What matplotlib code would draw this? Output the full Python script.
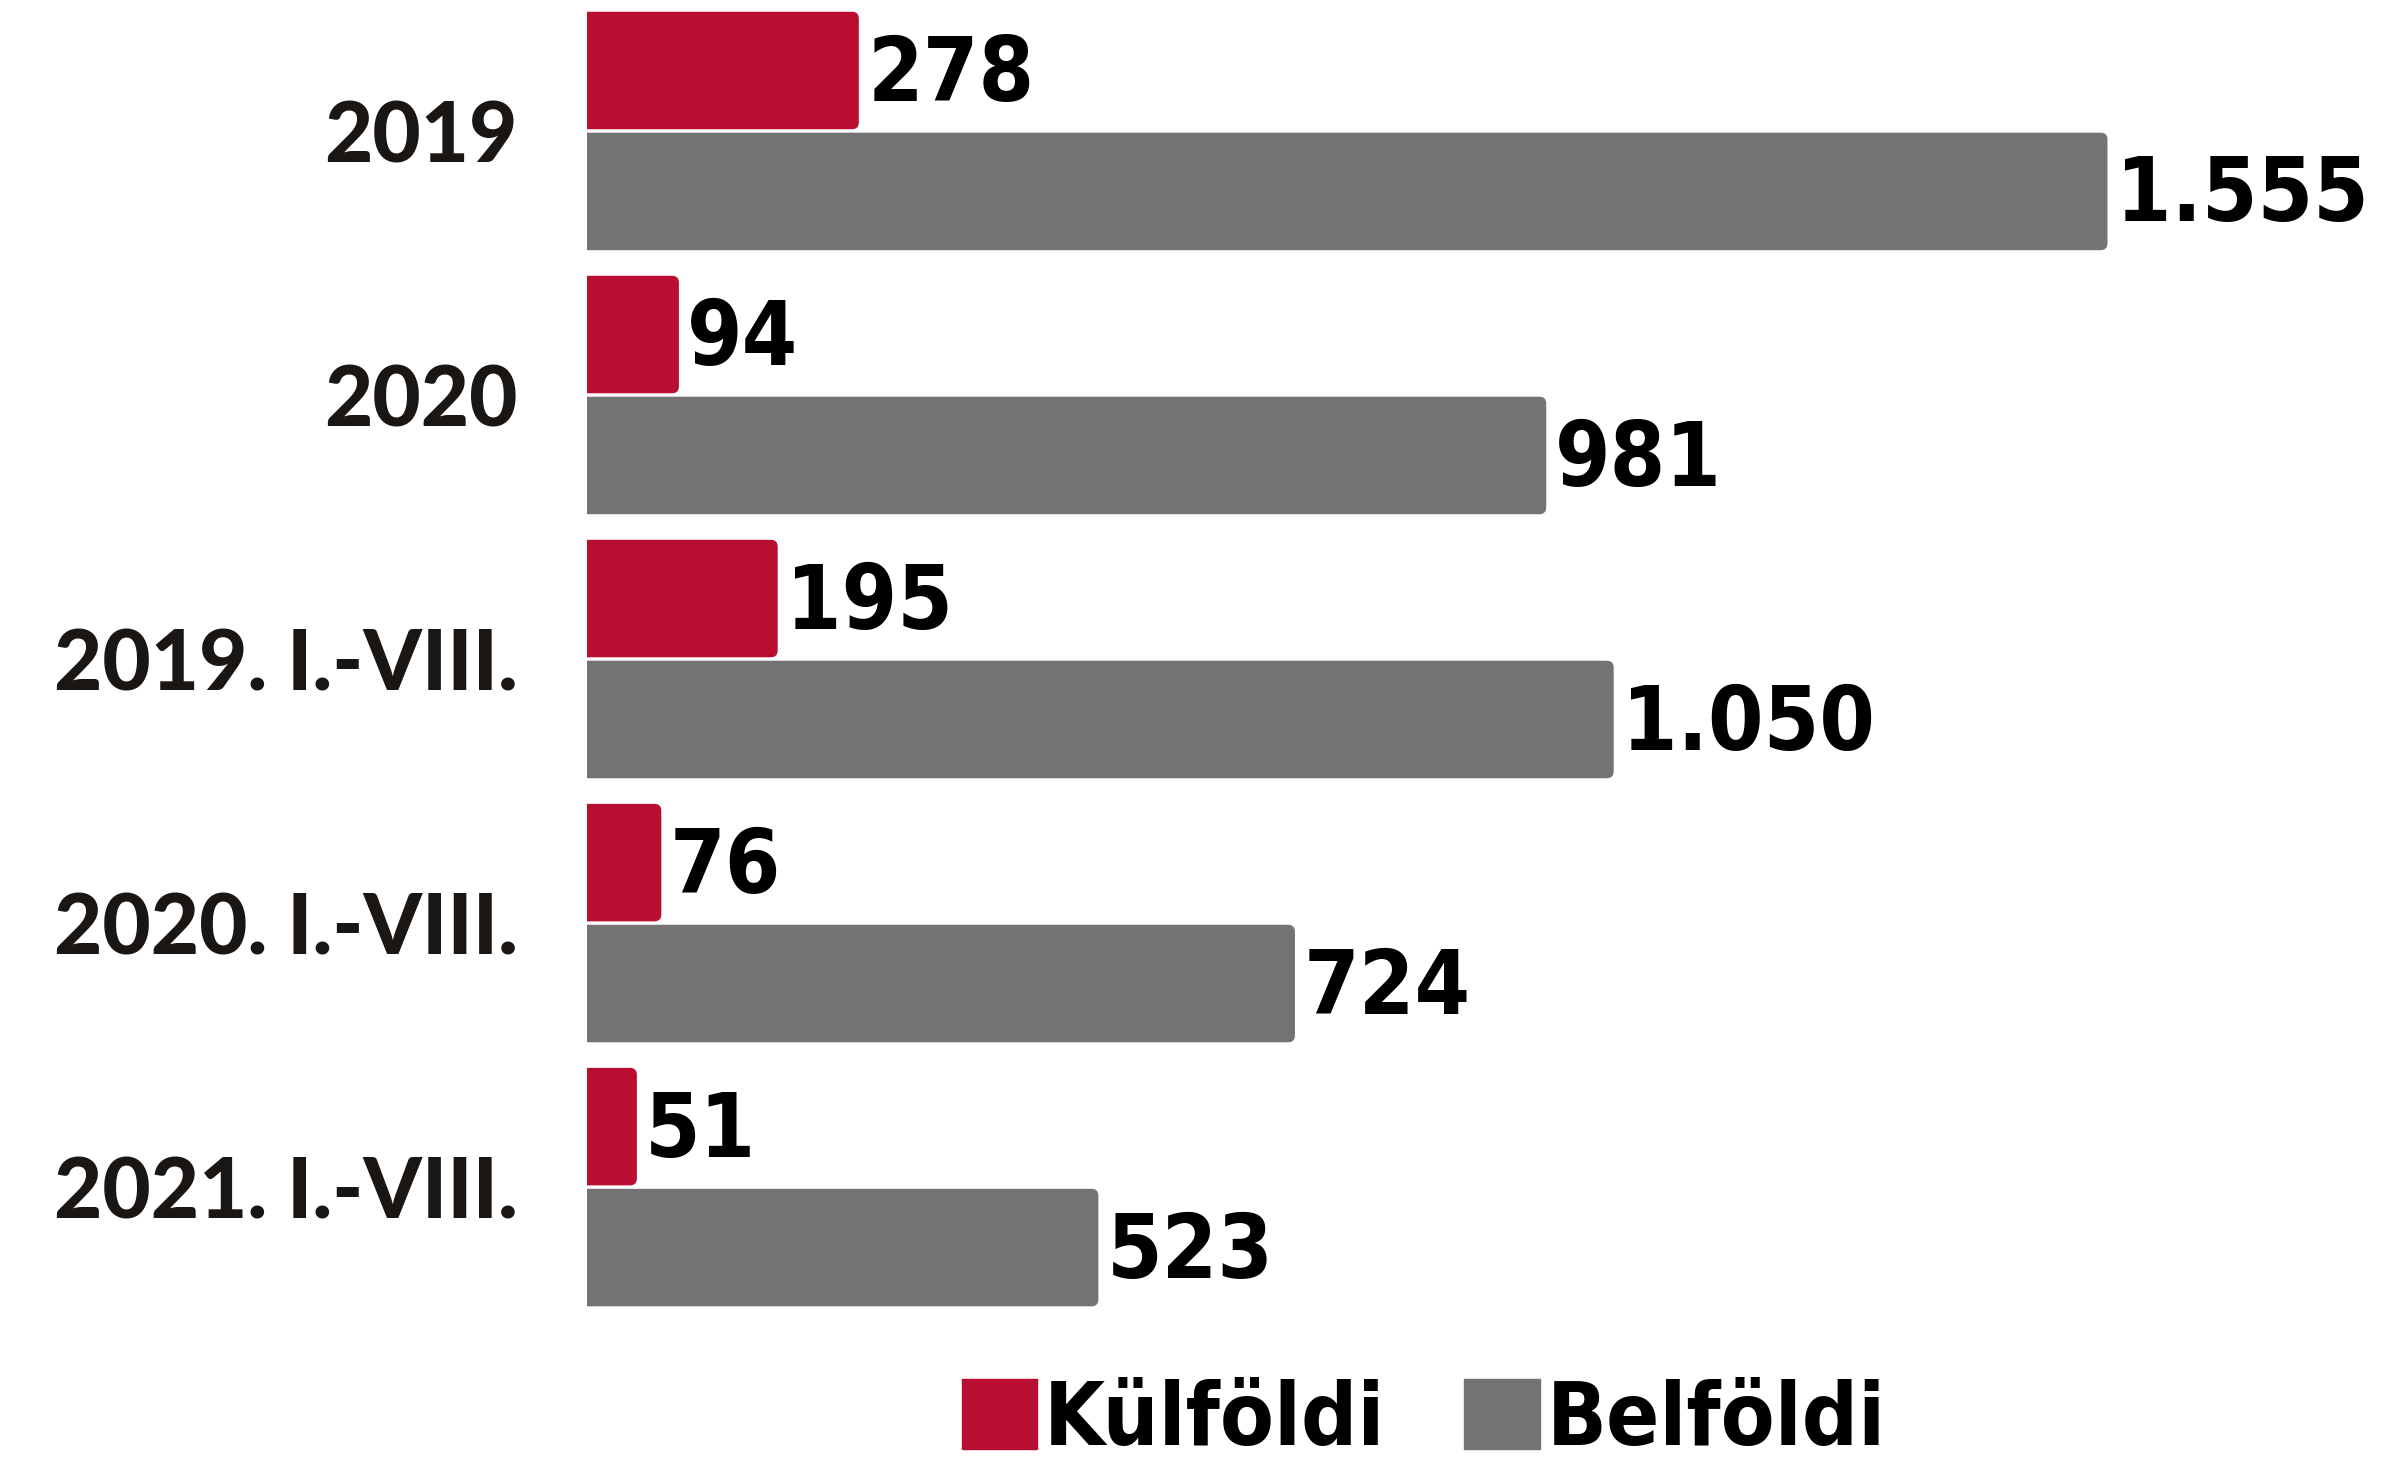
import numpy as np
import matplotlib.pyplot as plt
from matplotlib.patches import FancyBboxPatch, Patch

# Data
categories = ['2019', '2020', '2019. I.-VIII.', '2020. I.-VIII.', '2021. I.-VIII.']
kulfoldi = [278, 94, 195, 76, 51]
belfoldi = [1555, 981, 1050, 724, 523]
kulfoldi_labels = ['278', '94', '195', '76', '51']
belfoldi_labels = ['1.555', '981', '1.050', '724', '523']

red = '#B90E31'
gray = '#727372'

fig = plt.figure(figsize=(23.93, 14.63), dpi=100)
ax = fig.add_axes([0.2453, 0.0, 0.7547, 1.0])

y = np.arange(len(categories))
h = 0.445
off = 0.229

bars_k = ax.barh(y - off, kulfoldi, height=h, color=red)
bars_b = ax.barh(y + off, belfoldi, height=h, color=gray)

ax.set_xlim(0, 1847)
ax.set_ylim(5.045, -0.496)

# rounded right ends
aspect = (1 / 264) / (1 / 0.9775)
for bars in (bars_k, bars_b):
    for p in bars:
        p.set_visible(False)
        fb = FancyBboxPatch((p.get_x() - 20, p.get_y()), p.get_width() + 20, p.get_height(),
                            boxstyle='round,pad=0,rounding_size=7', mutation_aspect=aspect,
                            facecolor=p.get_facecolor(), edgecolor='none')
        ax.add_patch(fb)

val_font = dict(family='DejaVu Sans', fontstretch='condensed', fontweight='bold',
                fontsize=64, color='black')
for i in range(len(categories)):
    ax.annotate(kulfoldi_labels[i], (kulfoldi[i], y[i] - off), xytext=(6, -4),
                textcoords='offset points', va='center', ha='left', **val_font)
    ax.annotate(belfoldi_labels[i], (belfoldi[i], y[i] + off), xytext=(6, -4),
                textcoords='offset points', va='center', ha='left', **val_font)

ax.set_yticks(y)
ax.set_yticklabels(categories, fontsize=60, fontweight='black', family='Lato', color='#1a1614')
ax.tick_params(axis='y', length=0, pad=50)
ax.set_xticks([])
for s in ax.spines.values():
    s.set_visible(False)

handles = [Patch(color=red, label='Külföldi'), Patch(color=gray, label='Belföldi')]
fig.legend(handles=handles, loc='center', bbox_to_anchor=(0.595, 0.029), ncol=2, frameon=False,
           prop=dict(family='DejaVu Sans', stretch='condensed', weight='bold', size=63),
           handlelength=0.86, handleheight=0.86, handletextpad=0.08, columnspacing=0.9)

fig.savefig('out.png', dpi=100)
